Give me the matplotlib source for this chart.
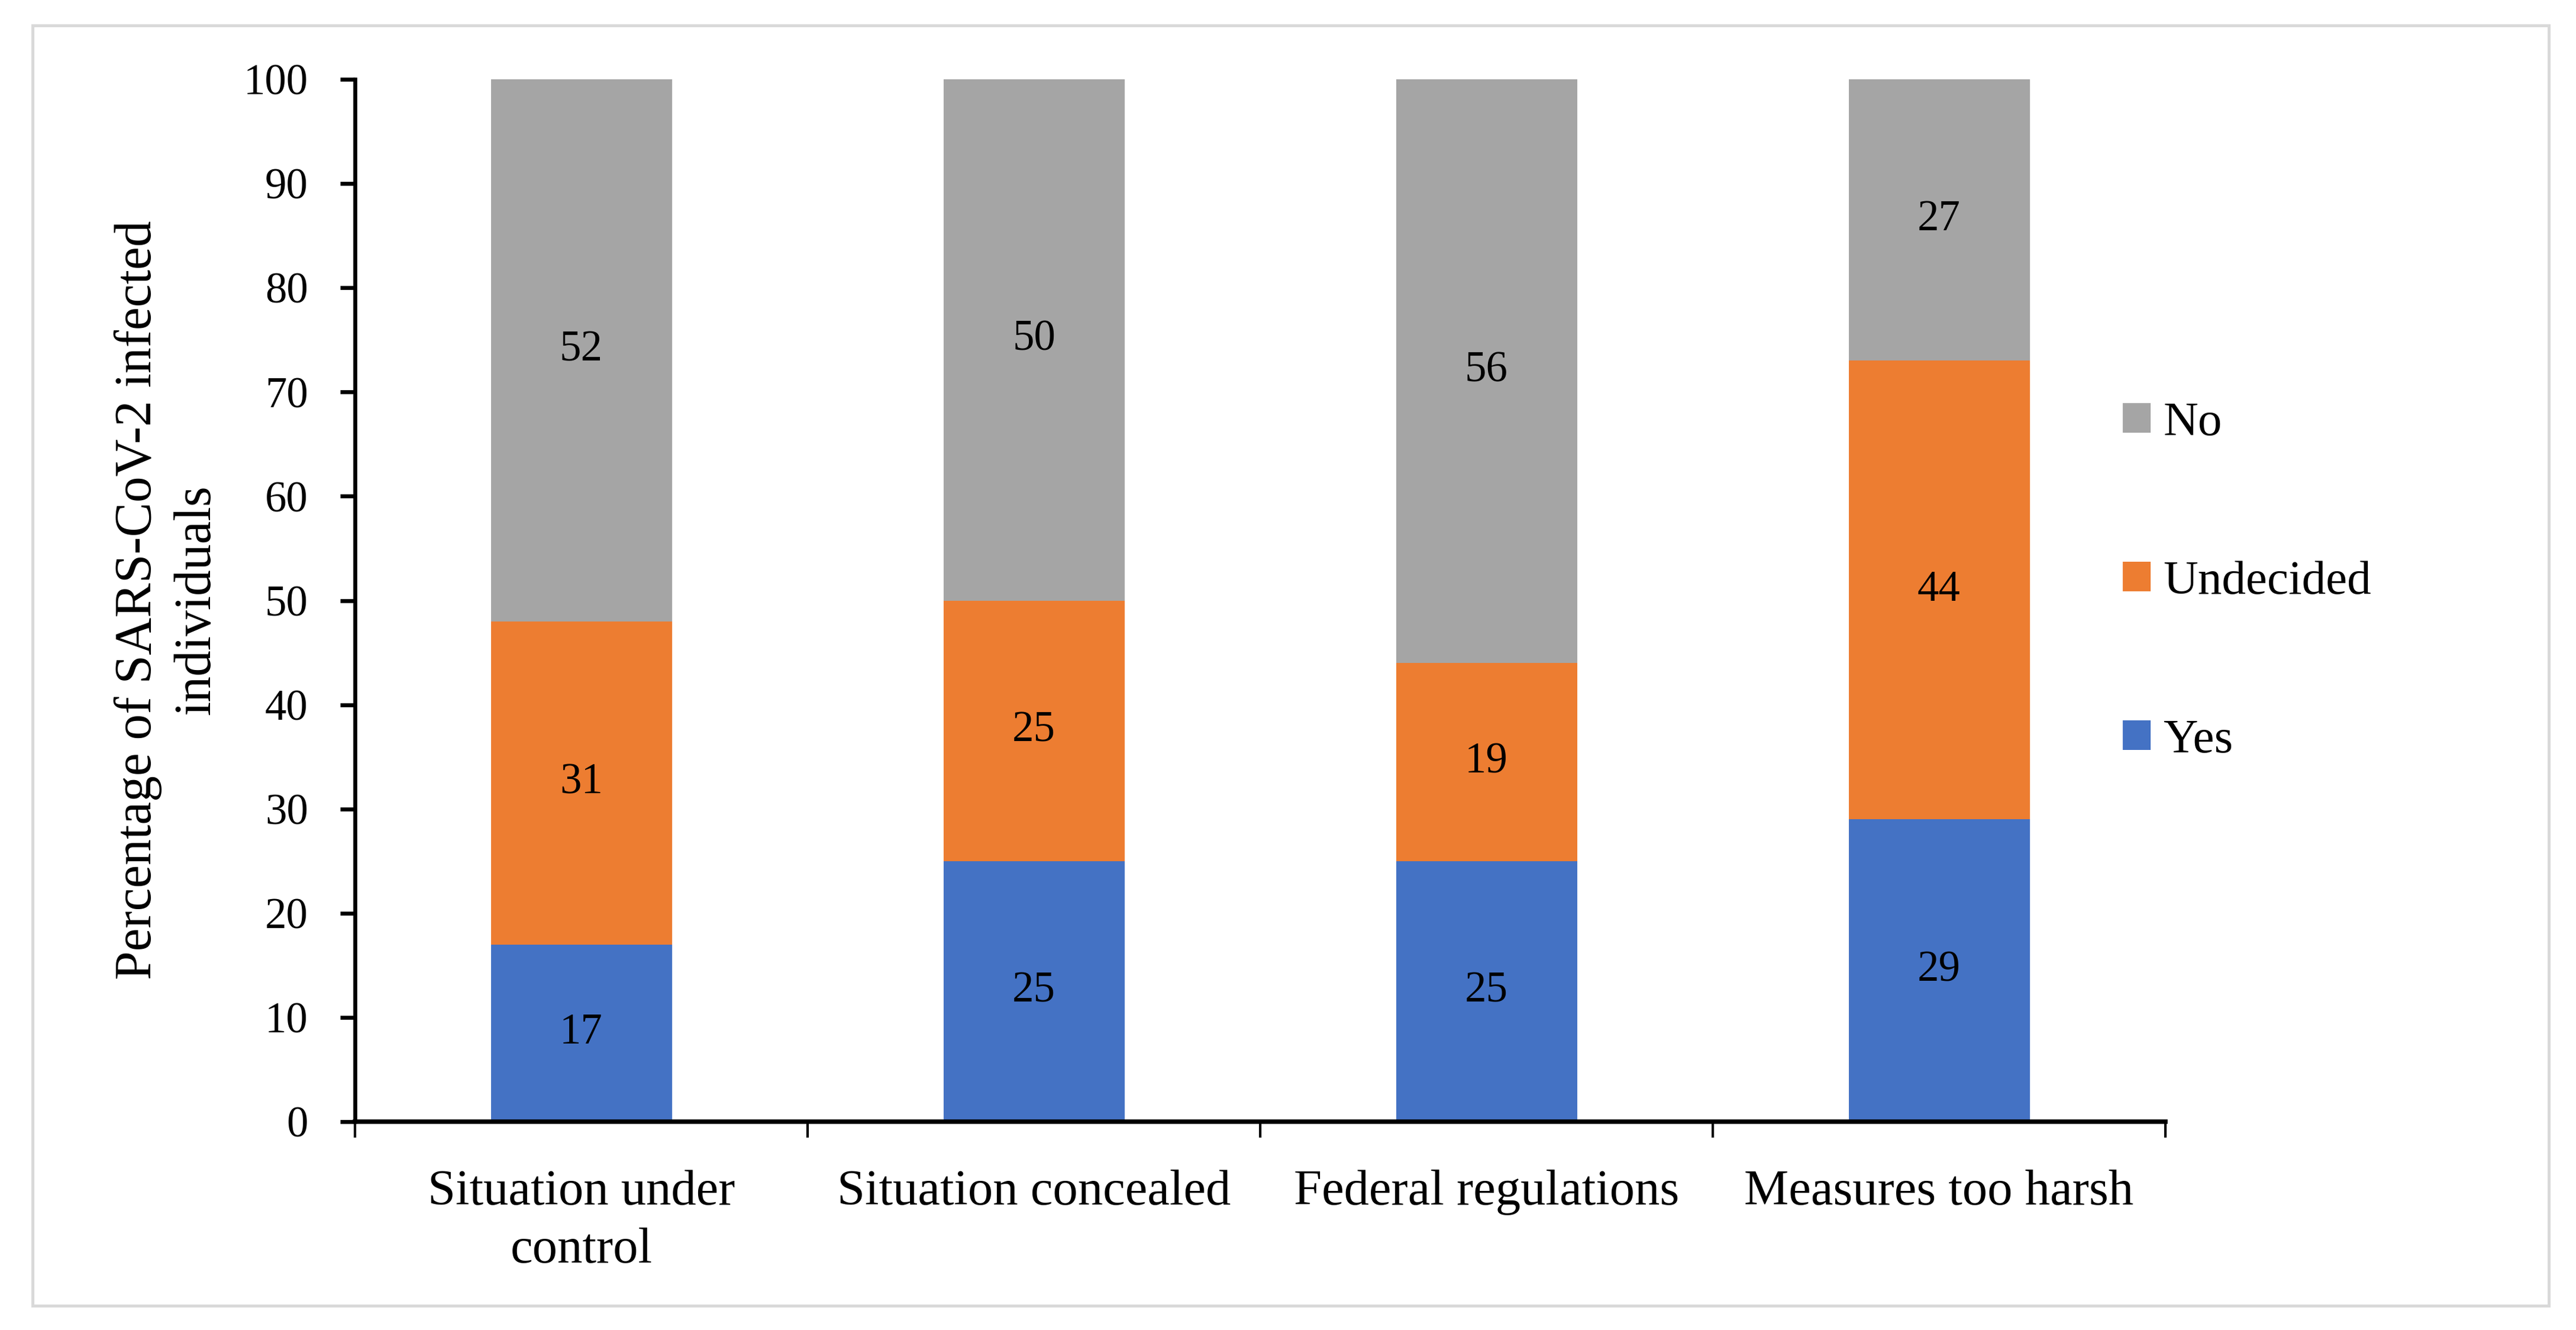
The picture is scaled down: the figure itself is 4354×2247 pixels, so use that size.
import matplotlib.pyplot as plt
from matplotlib.patches import Rectangle

plt.rcParams['font.family'] = ['Liberation Serif', 'DejaVu Serif']

categorias = ["Situation under\ncontrol", "Situation concealed",
              "Federal regulations", "Measures too harsh"]
si = [17, 25, 25, 29]
indecisos = [31, 25, 19, 44]
no = [52, 50, 56, 27]

color_si = "#4472C4"
color_ind = "#ED7D31"
color_no = "#A5A5A5"

fig = plt.figure(figsize=(4354 / 300, 2247 / 300), dpi=300)
cuad = fig.add_axes([600 / 4354, 1 - 1895 / 2247, 3060 / 4354, 1761 / 2247])

x = list(range(len(categorias)))
base_ind = si
base_no = [a + b for a, b in zip(si, indecisos)]

b_si = cuad.bar(x, si, width=0.4, color=color_si, label="Yes")
b_ind = cuad.bar(x, indecisos, width=0.4, bottom=base_ind, color=color_ind, label="Undecided")
b_no = cuad.bar(x, no, width=0.4, bottom=base_no, color=color_no, label="No")

for barras in (b_si, b_ind, b_no):
    cuad.bar_label(barras, label_type="center", fontsize=17.5, color="black")

cuad.set_xlim(-0.5, 3.5)
cuad.set_ylim(0, 100)
cuad.set_yticks(range(0, 101, 10))
cuad.tick_params(axis="y", direction="out", length=6, width=1.6, pad=13, labelsize=17.5)

# ticks between categories, labels at the centres
cuad.set_xticks([-0.5, 0.5, 1.5, 2.5, 3.5])
cuad.set_xticklabels([])
cuad.tick_params(axis="x", which="major", direction="out", length=6.5, width=1.0)
cuad.set_xticks(x, minor=True)
cuad.set_xticklabels(categorias, minor=True, fontsize=20.3, linespacing=1.35)
cuad.tick_params(axis="x", which="minor", length=0, pad=19.5)

for lado in ("top", "right"):
    cuad.spines[lado].set_visible(False)
cuad.spines["left"].set_linewidth(1.6)
cuad.spines["bottom"].set_linewidth(1.8)

fig.text(283 / 4354, 1 - 1014 / 2247, "Percentage of SARS-CoV-2 infected\nindividuals",
         rotation=90, ha="center", va="center", multialignment="center",
         fontsize=21, linespacing=1.3)

manejadores = [b_no, b_ind, b_si]
cuad.legend(manejadores, ["No", "Undecided", "Yes"], loc="center left",
            bbox_to_anchor=(3588 / 4354, 1 - 983 / 2247), bbox_transform=fig.transFigure,
            frameon=False, fontsize=19.5, borderpad=0, borderaxespad=0,
            handlelength=0.58, handleheight=0.57, handletextpad=0.26, labelspacing=2.4)

fig.patches.append(Rectangle((55 / 4354, 1 - 2206 / 2247), 4253 / 4354, 2163 / 2247,
                             transform=fig.transFigure, fill=False,
                             edgecolor="#D9D9D9", linewidth=1.2))

fig.savefig("out.png", dpi=300)
